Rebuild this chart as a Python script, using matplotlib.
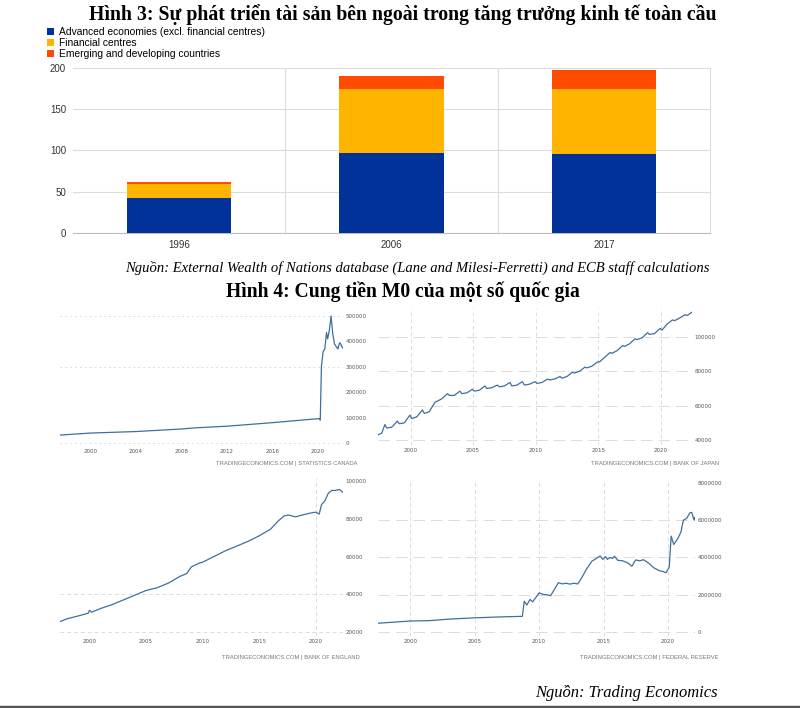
import matplotlib
matplotlib.use("Agg")
import matplotlib.pyplot as plt
from matplotlib.lines import Line2D
from matplotlib.patches import Patch

W, H = 800, 708

SERIF = ["Liberation Serif", "DejaVu Serif"]
SANS = ["Liberation Sans", "DejaVu Sans"]

# Figure 3 — external assets (ECB)
bar_years = ["1996", "2006", "2017"]
advanced = [42, 97, 96]
fin_centres = [17, 78, 79]
emerging = [3, 15, 23]
bar_names = ["Advanced economies (excl. financial centres)",
             "Financial centres",
             "Emerging and developing countries"]
bar_colors = ["#003299", "#FFB400", "#FF4B00"]

# Figure 4 — M0 (Trading Economics)
ca_years = [1997.3, 2000.0, 2004.0, 2008.0, 2009.0, 2012.0, 2016.0, 2020.1,
            2020.2, 2020.3, 2020.45, 2020.6, 2020.75, 2020.85, 2021.0,
            2021.15, 2021.3, 2021.45, 2021.6, 2021.75, 2021.9, 2022.0, 2022.15]
ca_vals = [31000, 39000, 45000, 55000, 59000, 66000, 80000, 96000,
           90000, 300000, 360000, 370000, 435000, 410000, 445000,
           500000, 430000, 390000, 380000, 370000, 395000, 390000, 375000]

jp_years = [1997.4, 1997.7, 1997.95, 1998.1, 1998.5, 1998.95, 1999.1, 1999.5,
            1999.95, 2000.1, 2000.5, 2000.95, 2001.1, 2001.5, 2001.95, 2002.1,
            2002.5, 2002.95, 2003.1, 2003.5, 2003.95, 2004.1, 2004.5, 2004.95,
            2005.1, 2005.5, 2005.95, 2006.1, 2006.5, 2006.95, 2007.1, 2007.5,
            2007.95, 2008.1, 2008.5, 2008.95, 2009.1, 2009.5, 2009.95, 2010.1,
            2010.5, 2010.95, 2011.1, 2011.5, 2011.95, 2012.1, 2012.5, 2012.95,
            2013.1, 2013.5, 2013.95, 2014.1, 2014.5, 2014.95, 2015.1, 2015.5,
            2015.95, 2016.1, 2016.5, 2016.95, 2017.1, 2017.5, 2017.95, 2018.1,
            2018.5, 2018.95, 2019.1, 2019.5, 2019.95, 2020.1, 2020.5, 2020.95,
            2021.1, 2021.5, 2021.95, 2022.1, 2022.5]
jp_vals = [43000, 44000, 49000, 47000, 47500, 51000, 49500, 50000,
           54500, 52500, 53500, 57500, 55500, 56500, 62000, 62500,
           64000, 67000, 66000, 66000, 68500, 67000, 67500, 69500,
           68500, 69000, 71500, 70000, 70500, 72000, 71000, 71500,
           73500, 71500, 72000, 74000, 72000, 72500, 74000, 73000,
           73500, 75500, 75000, 75500, 77000, 76000, 77000, 79500,
           79000, 80000, 82500, 82000, 83000, 85500, 85500, 88000,
           91000, 90500, 92000, 95000, 94500, 96000, 99000, 98500,
           99500, 102500, 101500, 102000, 105000, 104000, 107500, 110000,
           109500, 111000, 113000, 112500, 114500]

uk_years = [1997.4, 1998.0, 1999.0, 1999.9, 2000.0, 2000.2, 2001.0, 2002.0,
            2003.0, 2004.0, 2005.0, 2006.0, 2007.0, 2008.0, 2008.6, 2009.0,
            2009.7, 2010.0, 2011.0, 2012.0, 2013.0, 2014.0, 2015.0, 2016.0,
            2016.7, 2017.2, 2017.6, 2018.2, 2018.8, 2019.5, 2020.0, 2020.3,
            2020.5, 2020.8, 2021.1, 2021.4, 2021.7, 2022.1, 2022.4]
uk_vals = [25500, 27000, 28500, 30000, 31500, 30500, 32500, 34500,
           37000, 39500, 42000, 43500, 46000, 49500, 51000, 54500,
           56500, 57000, 60000, 63000, 65500, 68000, 71000, 74500,
           79000, 81500, 82000, 81000, 82000, 83000, 83500, 82500,
           87500, 89500, 93500, 95000, 95000, 95500, 94000]

us_years = [1997.5, 2000.0, 2001.5, 2003.0, 2005.0, 2007.0, 2008.7, 2008.85,
            2009.05, 2009.3, 2009.5, 2009.75, 2010.0, 2010.3, 2010.6, 2010.9,
            2011.2, 2011.5, 2011.8, 2012.1, 2012.4, 2012.7, 2013.0, 2013.3,
            2013.7, 2014.1, 2014.5, 2014.75, 2014.95, 2015.15, 2015.3, 2015.5,
            2015.7, 2015.85, 2016.1, 2016.5, 2016.9, 2017.2, 2017.5, 2017.8,
            2018.1, 2018.5, 2018.9, 2019.3, 2019.6, 2019.85, 2020.1, 2020.25,
            2020.45, 2020.75, 2021.0, 2021.2, 2021.45, 2021.7, 2021.85, 2022.0,
            2022.05, 2022.1]
us_vals = [470000, 590000, 610000, 690000, 760000, 810000, 840000, 1650000,
           1450000, 1750000, 1620000, 1850000, 2100000, 2020000, 2000000, 1950000,
           2300000, 2650000, 2580000, 2620000, 2570000, 2620000, 2580000, 2900000,
           3400000, 3800000, 3980000, 4080000, 3900000, 4050000, 3900000, 4000000,
           3950000, 4070000, 3850000, 3820000, 3700000, 3530000, 3870000, 3820000,
           3880000, 3700000, 3450000, 3300000, 3250000, 3180000, 3480000, 5150000,
           4700000, 5000000, 5350000, 6000000, 6100000, 6400000, 6420000, 6050000,
           6150000, 6000000]

LINE = "#3f6f9c"
GRID = "#dcdcdc"
TICK = "#555555"


def px_axes(fig, x0, y0, x1, y1):
    return fig.add_axes([x0 / W, 1 - y1 / H, (x1 - x0) / W, (y1 - y0) / H])


def draw_bars(fig):
    ax = px_axes(fig, 73, 68, 710, 233)
    x = range(len(bar_years))
    bottom = [0] * len(bar_years)
    for vals, color in zip([advanced, fin_centres, emerging], bar_colors):
        ax.bar(x, vals, bottom=bottom, width=0.49, color=color, zorder=3)
        bottom = [b + v for b, v in zip(bottom, vals)]
    ax.set_xlim(-0.5, 2.5)
    ax.set_ylim(0, 200)
    ax.set_yticks([0, 50, 100, 150, 200])
    ax.set_xticks(list(x))
    ax.set_xticklabels(bar_years)
    ax.set_xticks([0.5, 1.5], minor=True)
    ax.grid(axis="y", color=GRID, linewidth=0.8, zorder=0)
    ax.grid(axis="x", which="minor", color=GRID, linewidth=0.8, zorder=0)
    ax.tick_params(which="both", length=0, labelsize=7, colors="#333333", pad=5)
    for lbl in ax.get_xticklabels() + ax.get_yticklabels():
        lbl.set_family(SANS)
    for side in ("top", "left"):
        ax.spines[side].set_visible(False)
    ax.spines["right"].set_color(GRID)
    ax.spines["bottom"].set_color("#bdbdbd")

    handles = [Patch(facecolor=c, edgecolor="none") for c in bar_colors]
    fig.legend(handles, bar_names, loc="upper left",
               bbox_to_anchor=(47 / W, 1 - 27 / H), frameon=False,
               prop={"family": SANS, "size": 7.4}, handlelength=0.7,
               handleheight=0.7, handletextpad=0.5, labelspacing=0.12,
               borderpad=0, borderaxespad=0)


def draw_small(fig, box, years, vals, xlim, ylim, yticks, ylabels,
               xticks, hgrid, vgrid, hstyle, source, src_xy):
    ax = px_axes(fig, *box)
    for yv in hgrid:
        ax.axhline(yv, color=GRID, linewidth=0.7, linestyle=hstyle, zorder=0)
    for xv in vgrid:
        ax.axvline(xv, color=GRID, linewidth=0.7, linestyle=(0, (4, 3)), zorder=0)
    ax.plot(years, vals, color=LINE, linewidth=0.9, zorder=3)
    ax.set_xlim(*xlim)
    ax.set_ylim(*ylim)
    ax.set_xticks(xticks)
    ax.set_xticklabels([str(t) for t in xticks])
    ax.set_yticks(yticks)
    ax.set_yticklabels(ylabels)
    ax.yaxis.tick_right()
    ax.tick_params(length=0, labelsize=4, colors=TICK, pad=2)
    for s in ax.spines.values():
        s.set_visible(False)
    ax.patch.set_alpha(0)
    fig.text(src_xy[0] / W, 1 - src_xy[1] / H, source, ha="right",
             va="center", fontsize=4.2, color="#777777", family=SANS)


def main():
    fig = plt.figure(figsize=(W / 100, H / 100), dpi=100, facecolor="white")

    fig.text(403 / W, 1 - 15 / H,
             "Hình 3: Sự phát triển tài sản bên ngoài trong tăng trưởng kinh tế toàn cầu",
             ha="center", va="center", fontsize=14.2, fontweight="bold", family=SERIF)
    draw_bars(fig)
    fig.text(417 / W, 1 - 268 / H,
             "Nguồn: External Wealth of Nations database (Lane and Milesi-Ferretti) "
             "and ECB staff calculations",
             ha="center", va="center", fontsize=10.5, style="italic", family=SERIF)
    fig.text(403 / W, 1 - 292 / H, "Hình 4: Cung tiền M0 của một số quốc gia",
             ha="center", va="center", fontsize=14.1, fontweight="bold", family=SERIF)

    draw_small(fig, (60, 313, 343, 446), ca_years, ca_vals,
               (1997.3, 2022.2), (-12000, 512000),
               [0, 100000, 200000, 300000, 400000, 500000],
               ["0", "100000", "200000", "300000", "400000", "500000"],
               [2000, 2004, 2008, 2012, 2016, 2020],
               [0, 300000, 500000], [], (0, (2, 3)),
               "TRADINGECONOMICS.COM | STATISTICS CANADA", (358, 463))
    draw_small(fig, (378, 308, 692, 445), jp_years, jp_vals,
               (1997.4, 2022.5), (37100, 116900),
               [40000, 60000, 80000, 100000],
               ["40000", "60000", "80000", "100000"],
               [2000, 2005, 2010, 2015, 2020],
               [40000, 60000, 80000, 100000], [2000, 2005, 2010, 2015, 2020],
               (0, (12, 6)),
               "TRADINGECONOMICS.COM | BANK OF JAPAN", (719, 463))
    draw_small(fig, (60, 478, 343, 636), uk_years, uk_vals,
               (1997.4, 2022.4), (17900, 101600),
               [20000, 40000, 60000, 80000, 100000],
               ["20000", "40000", "60000", "80000", "100000"],
               [2000, 2005, 2010, 2015, 2020],
               [20000, 40000], [2020], (0, (4, 3)),
               "TRADINGECONOMICS.COM | BANK OF ENGLAND", (360, 657))
    draw_small(fig, (378, 480, 695, 636), us_years, us_vals,
               (1997.5, 2022.1), (-215000, 8160000),
               [0, 2000000, 4000000, 6000000, 8000000],
               ["0", "2000000", "4000000", "6000000", "8000000"],
               [2000, 2005, 2010, 2015, 2020],
               [0, 2000000, 4000000, 6000000], [2000, 2005, 2010, 2015, 2020],
               (0, (12, 6)),
               "TRADINGECONOMICS.COM | FEDERAL RESERVE", (719, 657))

    fig.text(718 / W, 1 - 693 / H, "Nguồn: Trading Economics", ha="right",
             va="center", fontsize=11.9, style="italic", family=SERIF)
    fig.add_artist(Line2D([0, 1], [1.5 / H, 1.5 / H], color="#555555",
                          linewidth=2.5, transform=fig.transFigure))

    fig.savefig("out.png", dpi=100, facecolor="white")


if __name__ == "__main__":
    main()
